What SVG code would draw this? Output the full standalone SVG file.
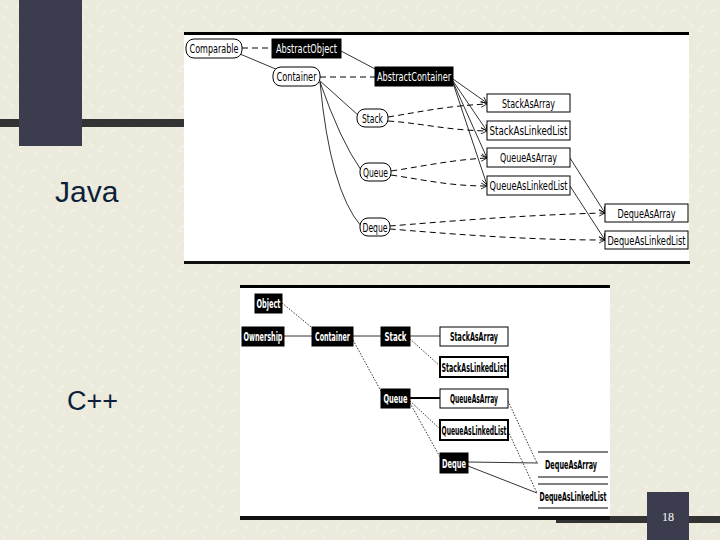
<svg xmlns="http://www.w3.org/2000/svg" width="720" height="540" viewBox="0 0 720 540">
<style>
.lbl{font-family:"Liberation Sans Narrow","DejaVu Sans Condensed","Liberation Sans",sans-serif;font-size:12px;text-anchor:middle;fill:#000}
.lb{font-family:"Liberation Sans Narrow","DejaVu Sans Condensed","Liberation Sans",sans-serif;font-size:12.5px;font-weight:bold;text-anchor:middle;fill:#000}
.inv{fill:#fff}
.pill{fill:#fff;stroke:#000;stroke-width:1}
.blk{fill:#000;stroke:#000}
.box{fill:#fff;stroke:#000;stroke-width:1}
.box2{fill:#fff;stroke:#000;stroke-width:2}
.sol{fill:none;stroke:#000;stroke-width:0.8}
.dsh{fill:none;stroke:#000;stroke-width:1;stroke-dasharray:6 4}
.dot{fill:none;stroke:#000;stroke-width:0.8;stroke-dasharray:1.5 1.5}
.big{font-family:"Liberation Sans",Arial,sans-serif;fill:#0b1f3a}
</style>
<defs>
<pattern id="tex" width="40" height="40" patternUnits="userSpaceOnUse">
<rect width="40" height="40" fill="#ebeadc"/>
<path d="M3 5l6 4M20 2l-4 7M30 12l7 -3M8 22l5 5M25 25l-6 3M34 30l3 7M12 35l-5 2M22 15l4 -5M2 14l2 6M17 30l6 2" stroke="#f7f6ee" stroke-width="1" fill="none"/>
</pattern>
<marker id="ar" markerWidth="8" markerHeight="8" refX="7" refY="4" orient="auto" markerUnits="userSpaceOnUse">
<path d="M1,1 L7,4 L1,7" fill="none" stroke="#000" stroke-width="0.8"/>
</marker>
</defs>
<rect width="720" height="540" fill="url(#tex)"/>
<rect x="0" y="119" width="190" height="8" fill="#333333"/>
<rect x="19" y="0" width="63" height="146" fill="#3b3c4d"/>
<rect x="556" y="516" width="164" height="7" fill="#333333"/>
<rect x="647" y="492" width="42" height="48" fill="#3b3c4d"/>
<text x="668" y="521" font-family="Liberation Serif,serif" font-size="12" fill="#fff" text-anchor="middle">18</text>
<text class="big" x="55" y="202" font-size="30">Java</text>
<text class="big" x="67" y="410" font-size="27">C++</text>

<!-- Java diagram -->
<g id="java-diagram">
<rect x="184" y="33" width="505" height="230" fill="#fff"/>
<rect x="184" y="32" width="505" height="3" fill="#000"/>
<rect x="184" y="261" width="506" height="3" fill="#111"/>
<g id="java-connectors">
<path class="sol" d="M240,54 L278,70"/>
<path class="dsh" d="M242,48 L272,48"/>
<path class="sol" d="M341,51 L379,71"/>
<path class="dsh" d="M320,77 L375,77"/>
<path class="sol" d="M319,80 L358,115"/>
<path class="sol" d="M320,82 Q340,140 361,170"/>
<path class="sol" d="M320,82 Q330,190 361,226"/>
<path class="sol" d="M453,79 L487,103" marker-end="url(#ar)"/>
<path class="sol" d="M453,81 L487,131" marker-end="url(#ar)"/>
<path class="sol" d="M453,82 L487,158" marker-end="url(#ar)"/>
<path class="sol" d="M453,83 L487,185" marker-end="url(#ar)"/>
<path class="sol" d="M570,158 L605,213" marker-end="url(#ar)"/>
<path class="sol" d="M570,186 L605,240" marker-end="url(#ar)"/>
<path class="dsh" d="M388,117 C420,112 445,106 487,104" marker-end="url(#ar)"/>
<path class="dsh" d="M388,121 C420,123 445,130 487,131" marker-end="url(#ar)"/>
<path class="dsh" d="M391,171 C425,166 450,160 487,158" marker-end="url(#ar)"/>
<path class="dsh" d="M391,175 C425,180 450,186 487,186" marker-end="url(#ar)"/>
<path class="dsh" d="M390,226 C440,222 520,215 605,213" marker-end="url(#ar)"/>
<path class="dsh" d="M390,229 C440,233 520,240 605,240" marker-end="url(#ar)"/>
</g>
<g id="j-comparable"><rect class="pill" x="186" y="39" width="56" height="19" rx="8"/><text class="lbl" x="214" y="52.5" textLength="49" lengthAdjust="spacingAndGlyphs">Comparable</text></g>
<g id="j-abstractobject"><rect class="blk" x="272" y="39" width="69" height="19"/><text class="lbl inv" x="306.5" y="52.5" textLength="61" lengthAdjust="spacingAndGlyphs">AbstractObject</text></g>
<g id="j-container"><rect class="pill" x="273" y="67" width="47" height="19" rx="8"/><text class="lbl" x="296.5" y="80.5" textLength="40" lengthAdjust="spacingAndGlyphs">Container</text></g>
<g id="j-abstractcontainer"><rect class="blk" x="375" y="67" width="78" height="19"/><text class="lbl inv" x="414" y="80.5" textLength="74" lengthAdjust="spacingAndGlyphs">AbstractContainer</text></g>
<g id="j-stack"><rect class="pill" x="357" y="109" width="31" height="18" rx="8"/><text class="lbl" x="372.5" y="122.5" textLength="21" lengthAdjust="spacingAndGlyphs">Stack</text></g>
<g id="j-queue"><rect class="pill" x="360" y="163" width="31" height="18" rx="8"/><text class="lbl" x="375.5" y="176.5" textLength="25" lengthAdjust="spacingAndGlyphs">Queue</text></g>
<g id="j-deque"><rect class="pill" x="360" y="218" width="30" height="18" rx="8"/><text class="lbl" x="375" y="231.5" textLength="25" lengthAdjust="spacingAndGlyphs">Deque</text></g>
<g id="j-stackasarray"><rect class="box" x="487" y="94" width="83" height="18"/><text class="lbl" x="528.5" y="107.5" textLength="53" lengthAdjust="spacingAndGlyphs">StackAsArray</text></g>
<g id="j-stackaslinkedlist"><rect class="box" x="487" y="121" width="83" height="19" stroke-width="1.5"/><text class="lbl" x="528.5" y="135" textLength="78" lengthAdjust="spacingAndGlyphs">StackAsLinkedList</text></g>
<g id="j-queueasarray"><rect class="box" x="487" y="148" width="83" height="19"/><text class="lbl" x="528.5" y="162" textLength="57" lengthAdjust="spacingAndGlyphs">QueueAsArray</text></g>
<g id="j-queueaslinkedlist"><rect class="box" x="487" y="176" width="83" height="19" stroke-width="1.5"/><text class="lbl" x="528.5" y="190" textLength="78" lengthAdjust="spacingAndGlyphs">QueueAsLinkedList</text></g>
<g id="j-dequeasarray"><rect class="box" x="605" y="204" width="83" height="18"/><text class="lbl" x="646.5" y="217.5" textLength="58" lengthAdjust="spacingAndGlyphs">DequeAsArray</text></g>
<g id="j-dequeaslinkedlist"><rect class="box" x="605" y="231" width="83" height="18" stroke-width="1.5"/><text class="lbl" x="646.5" y="244.5" textLength="78" lengthAdjust="spacingAndGlyphs">DequeAsLinkedList</text></g>
</g>

<!-- C++ diagram -->
<g id="cpp-diagram">
<rect x="240" y="286" width="370" height="233" fill="#fff"/>
<rect x="240" y="285" width="370" height="3" fill="#000"/>
<rect x="240" y="516" width="370" height="4" fill="#111"/>
<g id="cpp-connectors">
<path class="dot" d="M282,303 L316,331"/>
<path class="sol" d="M284,336 L312,336"/>
<path class="sol" d="M353,336 L381,336"/>
<path class="dot" d="M353,340 L382,393"/>
<path class="sol" d="M410,336 L440,336"/>
<path class="dot" d="M410,339 L440,366"/>
<path fill="none" stroke="#000" stroke-width="2" d="M410,398 L440,398"/>
<path class="dot" d="M410,401 L440,429"/>
<path class="dot" d="M410,403 L440,457"/>
<path class="dot" d="M508,401 L537,463"/>
<path class="dot" d="M508,431 L537,493"/>
<path class="sol" d="M468,462 L538,463"/>
<path class="sol" stroke-width="1.2" d="M468,466 L537,493"/>
</g>
<g id="c-object"><rect class="blk" x="255" y="294" width="27" height="19"/><text class="lb inv" x="268.5" y="308" textLength="24" lengthAdjust="spacingAndGlyphs">Object</text></g>
<g id="c-ownership"><rect class="blk" x="242" y="327" width="42" height="19"/><text class="lb inv" x="263" y="341" textLength="39" lengthAdjust="spacingAndGlyphs">Ownership</text></g>
<g id="c-container"><rect class="blk" x="312" y="327" width="41" height="19"/><text class="lb inv" x="332.5" y="341" textLength="35" lengthAdjust="spacingAndGlyphs">Container</text></g>
<g id="c-stack"><rect class="blk" x="381" y="327" width="29" height="19"/><text class="lb inv" x="395.5" y="341" textLength="22" lengthAdjust="spacingAndGlyphs">Stack</text></g>
<g id="c-stackasarray"><rect class="box" x="440" y="327" width="68" height="19"/><text class="lb" x="474" y="341" textLength="48" lengthAdjust="spacingAndGlyphs">StackAsArray</text></g>
<g id="c-stackaslinkedlist"><rect class="box2" x="440" y="357" width="68" height="20"/><text class="lb" x="474" y="371.5" textLength="65" lengthAdjust="spacingAndGlyphs">StackAsLinkedList</text></g>
<g id="c-queue"><rect class="blk" x="381" y="389" width="29" height="19"/><text class="lb inv" x="395.5" y="403" textLength="24" lengthAdjust="spacingAndGlyphs">Queue</text></g>
<g id="c-queueasarray"><rect class="box" x="440" y="389" width="68" height="19"/><text class="lb" x="474" y="403" textLength="48" lengthAdjust="spacingAndGlyphs">QueueAsArray</text></g>
<g id="c-queueaslinkedlist"><rect class="box2" x="440" y="420" width="68" height="20"/><text class="lb" x="474" y="434.5" textLength="65" lengthAdjust="spacingAndGlyphs">QueueAsLinkedList</text></g>
<g id="c-deque"><rect class="blk" x="440" y="453" width="28" height="20"/><text class="lb inv" x="454" y="467.5" textLength="24" lengthAdjust="spacingAndGlyphs">Deque</text></g>
<g id="c-dequeasarray"><path d="M538,452 H608 M538,477 H608" stroke="#000" stroke-width="1"/><text class="lb" x="571" y="469" textLength="52" lengthAdjust="spacingAndGlyphs">DequeAsArray</text></g>
<g id="c-dequeaslinkedlist"><path d="M538,484 H608 M538,508 H608" stroke="#000" stroke-width="1"/><text class="lb" x="573" y="500.5" textLength="67" lengthAdjust="spacingAndGlyphs">DequeAsLinkedList</text></g>
</g>
</svg>
